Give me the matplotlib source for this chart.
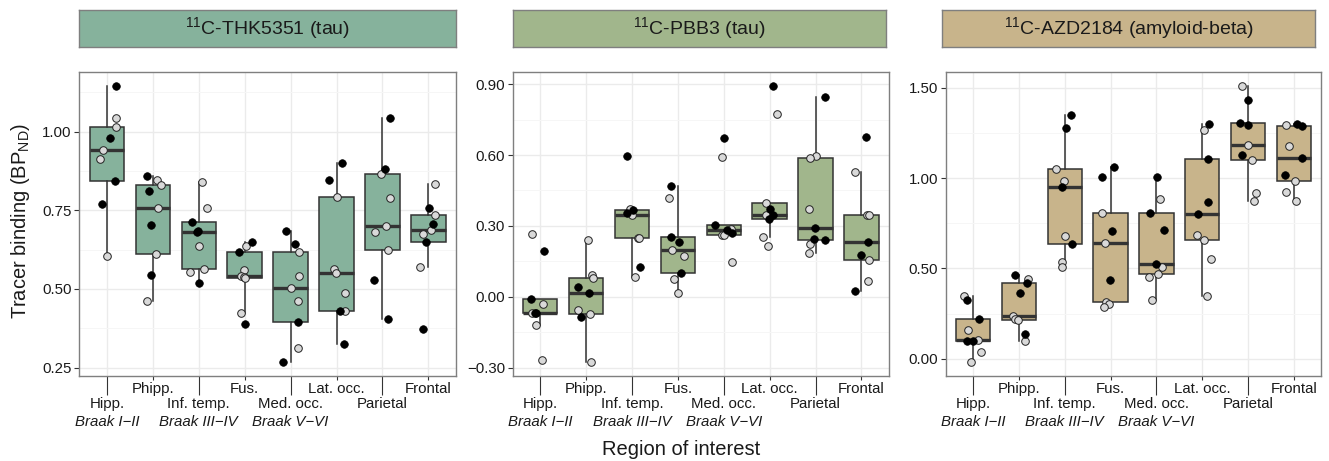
import numpy as np
import matplotlib
matplotlib.use("Agg")
import matplotlib.pyplot as plt
from matplotlib.ticker import FixedLocator, FuncFormatter

plt.rcParams['font.family'] = 'Liberation Sans'
plt.rcParams['mathtext.fontset'] = 'custom'
plt.rcParams['mathtext.rm'] = 'Liberation Sans'
plt.rcParams['mathtext.it'] = 'Liberation Sans:italic'

# regions, lower row labels carry the Braak stage
regions = ['Hipp.', 'Phipp.', 'Inf. temp.', 'Fus.', 'Med. occ.', 'Lat. occ.', 'Parietal', 'Frontal']
braak = {1: 'Braak I\u2212II', 3: 'Braak III\u2212IV', 5: 'Braak V\u2212VI'}

# 11C-THK5351 (tau)
thk_values = [
    [1.146, 1.043, 1.015, 0.981, 0.941, 0.912, 0.844, 0.770, 0.605],
    [0.860, 0.846, 0.830, 0.810, 0.758, 0.704, 0.611, 0.545, 0.461],
    [0.840, 0.757, 0.713, 0.683, 0.680, 0.637, 0.563, 0.555, 0.520],
    [0.649, 0.636, 0.618, 0.559, 0.541, 0.537, 0.536, 0.423, 0.387],
    [0.684, 0.644, 0.619, 0.541, 0.504, 0.462, 0.396, 0.313, 0.268],
    [0.901, 0.845, 0.792, 0.565, 0.552, 0.486, 0.429, 0.429, 0.325],
    [1.045, 0.882, 0.867, 0.788, 0.701, 0.682, 0.624, 0.529, 0.406],
    [0.833, 0.757, 0.736, 0.708, 0.689, 0.674, 0.650, 0.571, 0.372],
]
thk_black = [
    [1, 0, 0, 1, 0, 0, 1, 1, 0],
    [1, 0, 0, 1, 0, 1, 0, 1, 0],
    [0, 0, 1, 1, 1, 0, 0, 0, 1],
    [1, 0, 1, 0, 0, 0, 0, 0, 1],
    [1, 1, 0, 0, 0, 0, 1, 0, 1],
    [1, 1, 0, 0, 0, 0, 1, 0, 1],
    [1, 1, 0, 0, 0, 0, 0, 1, 1],
    [0, 1, 0, 1, 0, 0, 1, 0, 1],
]
thk_jitter = [
    [0.19, 0.19, 0.19, 0.06, -0.09, -0.14, 0.17, -0.11, 0.0],
    [-0.12, 0.09, 0.18, -0.08, 0.12, -0.03, 0.07, -0.03, -0.12],
    [0.07, 0.19, -0.15, -0.02, -0.04, 0.01, 0.12, -0.2, 0.0],
    [0.17, 0.02, -0.13, -0.01, -0.07, -0.01, 0.0, -0.09, 0.01],
    [-0.10, 0.10, 0.19, 0.19, 0.0, 0.15, 0.15, 0.16, -0.16],
    [0.12, -0.16, 0.01, -0.05, -0.02, 0.18, 0.07, 0.19, 0.17],
    [0.16, 0.05, -0.04, 0.17, 0.07, -0.16, 0.13, -0.18, 0.13],
    [0.14, 0.01, 0.14, 0.10, 0.05, -0.12, -0.05, -0.19, -0.12],
]

# 11C-PBB3 (tau)
pbb_values = [
    [0.267, 0.193, -0.009, -0.032, -0.067, -0.069, -0.069, -0.121, -0.268],
    [0.242, 0.090, 0.081, 0.043, 0.015, -0.057, -0.073, -0.085, -0.276],
    [0.596, 0.371, 0.368, 0.355, 0.347, 0.248, 0.248, 0.124, 0.084],
    [0.468, 0.420, 0.253, 0.232, 0.197, 0.174, 0.101, 0.077, 0.016],
    [0.670, 0.592, 0.304, 0.286, 0.284, 0.270, 0.262, 0.262, 0.146],
    [0.893, 0.773, 0.395, 0.371, 0.348, 0.348, 0.330, 0.252, 0.214],
    [0.846, 0.595, 0.587, 0.373, 0.293, 0.245, 0.241, 0.225, 0.184],
    [0.678, 0.527, 0.348, 0.348, 0.231, 0.177, 0.157, 0.067, 0.026],
]
pbb_black = [
    [0, 1, 1, 0, 1, 1, 0, 0, 0],
    [0, 0, 0, 1, 1, 0, 0, 1, 0],
    [1, 0, 1, 1, 0, 0, 0, 1, 0],
    [1, 0, 1, 1, 0, 0, 1, 0, 0],
    [1, 0, 1, 0, 1, 1, 0, 0, 0],
    [1, 0, 0, 1, 0, 1, 1, 0, 0],
    [1, 0, 0, 0, 1, 1, 1, 0, 0],
    [1, 0, 0, 0, 1, 1, 0, 0, 1],
]
pbb_jitter = [
    [-0.19, 0.09, -0.2, 0.06, -0.09, -0.12, -0.17, -0.09, 0.04],
    [0.03, 0.12, 0.14, -0.17, 0.07, -0.17, 0.09, -0.12, 0.11],
    [-0.11, -0.05, 0.02, -0.12, 0.0, 0.12, 0.15, 0.17, 0.06],
    [-0.15, -0.2, -0.15, 0.03, -0.12, 0.13, 0.07, -0.09, 0.01],
    [0.0, -0.04, -0.2, 0.15, 0.07, 0.17, -0.05, 0.01, 0.17],
    [0.08, 0.15, -0.07, 0.0, -0.09, 0.07, -0.02, -0.15, -0.04],
    [0.2, 0.0, -0.13, -0.14, -0.02, -0.04, 0.2, -0.13, -0.14],
    [0.1, -0.15, 0.12, 0.17, 0.14, -0.02, 0.17, 0.14, -0.14],
]

# 11C-AZD2184 (amyloid-beta)
azd_values = [
    [0.349, 0.323, 0.220, 0.157, 0.103, 0.100, 0.100, 0.037, -0.018],
    [0.465, 0.439, 0.419, 0.363, 0.234, 0.222, 0.216, 0.137, 0.096],
    [1.347, 1.275, 1.048, 0.982, 0.950, 0.677, 0.633, 0.537, 0.507],
    [1.063, 1.004, 0.806, 0.707, 0.640, 0.437, 0.314, 0.303, 0.286],
    [1.007, 0.884, 0.804, 0.710, 0.524, 0.507, 0.469, 0.450, 0.327],
    [1.301, 1.268, 1.105, 0.867, 0.801, 0.685, 0.657, 0.550, 0.345],
    [1.511, 1.435, 1.303, 1.293, 1.181, 1.127, 1.100, 0.919, 0.871],
    [1.299, 1.295, 1.286, 1.177, 1.113, 1.017, 0.985, 0.921, 0.871],
]
azd_black = [
    [0, 1, 1, 0, 0, 1, 1, 0, 0],
    [1, 0, 1, 1, 0, 0, 0, 1, 0],
    [1, 1, 0, 0, 1, 0, 1, 0, 0],
    [1, 1, 0, 1, 0, 1, 0, 0, 0],
    [1, 0, 1, 1, 1, 0, 0, 0, 0],
    [1, 0, 1, 1, 1, 0, 0, 0, 0],
    [0, 1, 1, 1, 0, 1, 0, 0, 0],
    [1, 0, 1, 0, 1, 1, 0, 0, 0],
]
azd_jitter = [
    [-0.19, -0.14, 0.13, -0.12, 0.1, -0.14, -0.01, 0.16, -0.05],
    [-0.08, 0.2, 0.18, 0.02, -0.14, -0.09, -0.03, 0.13, 0.14],
    [0.13, 0.03, -0.2, -0.01, -0.07, 0.01, 0.16, -0.07, -0.07],
    [0.07, -0.18, -0.18, 0.04, -0.12, -0.02, -0.09, -0.04, -0.14],
    [0.01, 0.07, -0.15, 0.17, 0.0, 0.12, 0.03, -0.16, -0.1],
    [0.15, 0.04, 0.12, 0.12, -0.1, -0.12, 0.04, 0.19, 0.1],
    [-0.14, 0.01, -0.18, 0.01, -0.01, -0.14, 0.09, 0.17, 0.12],
    [0.07, -0.17, 0.18, -0.11, 0.18, -0.2, 0.03, -0.17, 0.05],
]

titles = ['$^{11}$C-THK5351 (tau)', '$^{11}$C-PBB3 (tau)', '$^{11}$C-AZD2184 (amyloid-beta)']
colors = ['#86b29c', '#a1b68c', '#c8b48b']
yticks = [[0.25, 0.50, 0.75, 1.00], [-0.30, 0.00, 0.30, 0.60, 0.90], [0.00, 0.50, 1.00, 1.50]]

panels = [
    (thk_values, thk_black, thk_jitter),
    (pbb_values, pbb_black, pbb_jitter),
    (azd_values, azd_black, azd_jitter),
]

W, H = 1329, 461
fig = plt.figure(figsize=(W / 100, H / 100), dpi=100)

# pixel boxes (left, right) for plots and strips
ax_lr = [(79.3, 456.0), (512.7, 889.0), (945.7, 1321.3)]
strip_lr = [(79.3, 456.0), (512.7, 885.7), (942.3, 1315.0)]
ax_top, ax_bot = 72.0, 375.7
strip_top, strip_bot = 10.0, 47.0

fmt = FuncFormatter(lambda v, p: f"{v:.2f}".replace('-', '\u2212'))
pos = np.arange(1, len(regions) + 1)
lab_size = 10.8

for i, (vals, black, jit) in enumerate(panels):
    l, r = ax_lr[i]
    ax = fig.add_axes([l / W, (H - ax_bot) / H, (r - l) / W, (ax_bot - ax_top) / H])
    ax.set_axisbelow(True)

    ax.boxplot(vals, positions=pos, widths=0.75, whis=1.5, showfliers=False,
               showcaps=False, patch_artist=True, manage_ticks=False,
               boxprops=dict(facecolor=colors[i], edgecolor='#333333', linewidth=1.1),
               medianprops=dict(color='#333333', linewidth=2.4),
               whiskerprops=dict(color='#333333', linewidth=1.1))

    for k in range(len(regions)):
        v = np.array(vals[k])
        b = np.array(black[k]) == 1
        x = pos[k] + np.array(jit[k])
        ax.scatter(x[~b], v[~b], s=30, color='#d9d9d9', edgecolors='#222222',
                   linewidths=0.7, zorder=3)
        ax.scatter(x[b], v[b], s=30, color='black', edgecolors='black',
                   linewidths=0.5, zorder=3)

    allv = np.concatenate([np.array(v) for v in vals])
    span = allv.max() - allv.min()
    ax.set_ylim(allv.min() - 0.05 * span, allv.max() + 0.05 * span)
    ax.set_xlim(0.4, 8.6)

    yt = yticks[i]
    step = yt[1] - yt[0]
    ax.yaxis.set_major_locator(FixedLocator(yt))
    ax.yaxis.set_minor_locator(FixedLocator([t + step / 2 for t in [yt[0] - step] + yt]))
    ax.yaxis.set_major_formatter(fmt)

    ax.xaxis.set_major_locator(FixedLocator(pos[0::2]))
    ax.xaxis.set_minor_locator(FixedLocator(pos[1::2]))
    ax.set_xticklabels(regions[0::2])
    ax.set_xticklabels(regions[1::2], minor=True)

    ax.grid(True, which='major', color='#ebebeb', linewidth=1.0)
    ax.grid(True, which='minor', axis='x', color='#ebebeb', linewidth=1.0)
    ax.grid(True, which='minor', axis='y', color='#f6f6f6', linewidth=0.7)

    ax.tick_params(axis='y', which='major', length=3.5, width=0.8, color='#333333',
                   labelsize=lab_size, labelcolor='#1a1a1a', pad=2)
    ax.tick_params(axis='y', which='minor', length=0)
    ax.tick_params(axis='x', which='major', length=14, width=0.8, color='#333333',
                   labelsize=lab_size, labelcolor='#1a1a1a', pad=1.5)
    ax.tick_params(axis='x', which='minor', length=3, width=0.8, color='#333333',
                   labelsize=lab_size, labelcolor='#1a1a1a', pad=1.5)

    for k, txt in braak.items():
        ax.annotate(txt, xy=(k, 0), xycoords=('data', 'axes fraction'),
                    xytext=(0, -28.5), textcoords='offset points',
                    ha='center', va='top', fontsize=lab_size, style='italic',
                    color='#1a1a1a')

    for s in ax.spines.values():
        s.set_color('#7f7f7f')
        s.set_linewidth(1.0)

    # facet strip
    sl, sr = strip_lr[i]
    sax = fig.add_axes([sl / W, (H - strip_bot) / H, (sr - sl) / W, (strip_bot - strip_top) / H])
    sax.set_facecolor(colors[i])
    sax.set_xticks([])
    sax.set_yticks([])
    for s in sax.spines.values():
        s.set_color('#7f7f7f')
        s.set_linewidth(1.0)
    sax.text(0.5, 0.5, titles[i], ha='center', va='center', fontsize=14,
             color='#1a1a1a', transform=sax.transAxes)

fig.text(21 / W, 1 - 221 / H, 'Tracer binding (BP$_{\\mathrm{ND}}$)', rotation=90,
         ha='center', va='center', fontsize=14.5, color='#1a1a1a')
fig.text(681 / W, 1 - 455 / H, 'Region of interest', ha='center', va='baseline',
         fontsize=14.5, color='#1a1a1a')

fig.savefig('out.png', dpi=100)
